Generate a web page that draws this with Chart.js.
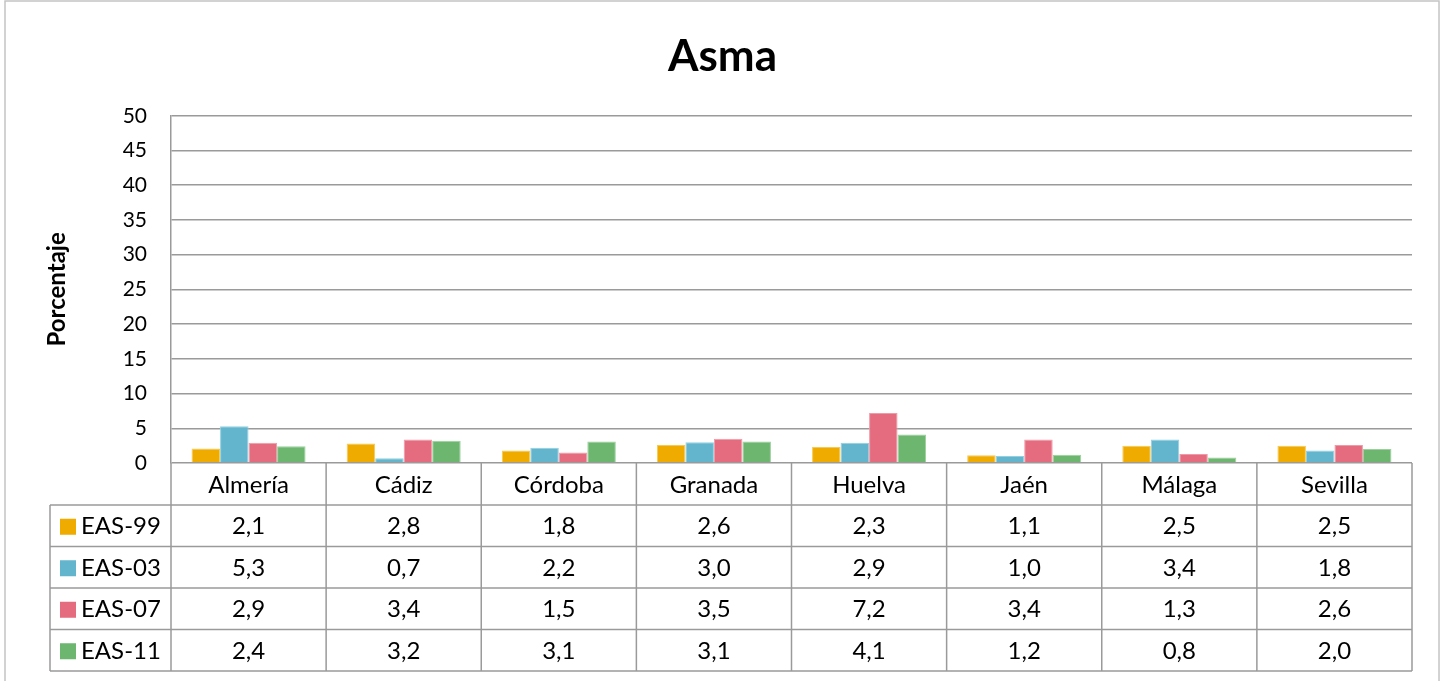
<!DOCTYPE html>
<html lang="es">
<head>
  <meta charset="utf-8">
  <title>Asma</title>
  <style>
    body { margin: 0; background: #fff; }
    #wrap { width: 1445px; height: 681px; position: relative; }
  </style>
</head>
<body>
  <div id="wrap"><canvas id="chart"></canvas></div>
  <script src="https://cdn.jsdelivr.net/npm/chart.js"></script>
  <script>
    var provincias = ['Almería', 'Cádiz', 'Córdoba', 'Granada', 'Huelva', 'Jaén', 'Málaga', 'Sevilla'];
    var eas99 = [2.1, 2.8, 1.8, 2.6, 2.3, 1.1, 2.5, 2.5];
    var eas03 = [5.3, 0.7, 2.2, 3.0, 2.9, 1.0, 3.4, 1.8];
    var eas07 = [2.9, 3.4, 1.5, 3.5, 7.2, 3.4, 1.3, 2.6];
    var eas11 = [2.4, 3.2, 3.1, 3.1, 4.1, 1.2, 0.8, 2.0];
    var yTicks = [0, 5, 10, 15, 20, 25, 30, 35, 40, 45, 50];

    var fuente = 'Lato, "Noto Sans", sans-serif';

    function serie(label, data, color, borde) {
      return {
        label: label,
        data: data,
        backgroundColor: color,
        borderColor: borde,
        borderWidth: 1,
        barPercentage: 1,
        categoryPercentage: 0.735
      };
    }

    // tabla de datos bajo el eje, como en Excel
    var tablaDatos = {
      id: 'tablaDatos',
      afterDraw: function (chart) {
        var ctx = chart.ctx;
        var x = chart.scales.x;
        var area = chart.chartArea;
        var n = provincias.length;
        var ancho = (area.right - area.left) / n;
        var top = area.bottom;
        var filaCab = 42;
        var fila = 41.5;
        var izq = 50;
        var bottom = top + filaCab + fila * 4;

        ctx.save();
        ctx.strokeStyle = '#9a9a9a';
        ctx.lineWidth = 1.5;
        ctx.beginPath();
        for (var i = 0; i <= n; i++) {
          var vx = area.left + i * ancho;
          ctx.moveTo(vx, top);
          ctx.lineTo(vx, bottom);
        }
        ctx.moveTo(izq, top + filaCab);
        ctx.lineTo(izq, bottom);
        ctx.moveTo(izq, top + filaCab);
        ctx.lineTo(area.right, top + filaCab);
        for (var r = 1; r <= 4; r++) {
          var hy = top + filaCab + r * fila;
          ctx.moveTo(izq, hy);
          ctx.lineTo(area.right, hy);
        }
        ctx.stroke();

        ctx.fillStyle = '#000';
        ctx.font = '24px ' + fuente;
        ctx.textAlign = 'center';
        ctx.textBaseline = 'middle';
        provincias.forEach(function (p, i) {
          ctx.fillText(p, x.getPixelForValue(i), top + filaCab / 2 + 1);
        });

        chart.data.datasets.forEach(function (ds, r) {
          var cy = top + filaCab + r * fila + fila / 2 + 1;
          ctx.fillStyle = ds.backgroundColor;
          ctx.fillRect(60, cy - 8, 16, 16);
          ctx.fillStyle = '#000';
          ctx.textAlign = 'left';
          ctx.fillText(ds.label, 81, cy);
          ctx.textAlign = 'center';
          ds.data.forEach(function (v, i) {
            ctx.fillText(v.toFixed(1).replace('.', ','), x.getPixelForValue(i), cy);
          });
        });

        // marco exterior
        ctx.strokeStyle = '#c4c4c4';
        ctx.lineWidth = 1.5;
        ctx.strokeRect(5, 1, 1434, 700);
        ctx.restore();
      }
    };

    new Chart(document.getElementById('chart'), {
      type: 'bar',
      data: {
        labels: provincias,
        datasets: [
          serie('EAS-99', eas99, '#f0ab00', '#f6c955'),
          serie('EAS-03', eas03, '#62b5cd', '#94cfe0'),
          serie('EAS-07', eas07, '#e56b7e', '#f09aa7'),
          serie('EAS-11', eas11, '#6cb66f', '#9bd09d')
        ]
      },
      options: {
        responsive: true,
        maintainAspectRatio: false,
        animation: false,
        layout: { padding: { left: 0, right: 0, top: 0, bottom: 218 } },
        plugins: {
          legend: { display: false },
          tooltip: { enabled: false },
          title: {
            display: true,
            text: 'Asma',
            color: '#000',
            font: { family: fuente, size: 44, weight: 'bold' },
            padding: { top: 30, bottom: 33 }
          }
        },
        scales: {
          x: { display: false },
          y: {
            min: 0,
            max: 50,
            afterFit: function (scale) { scale.width = 171; },
            afterBuildTicks: function (scale) {
              scale.ticks = yTicks.map(function (v) { return { value: v }; });
            },
            ticks: {
              color: '#000',
              padding: 24,
              font: { family: fuente, size: 21 }
            },
            grid: { color: '#9a9a9a', lineWidth: 1.5, drawTicks: false },
            border: { color: '#9a9a9a', width: 1.5 },
            title: {
              display: true,
              text: 'Porcentaje',
              color: '#000',
              font: { family: fuente, size: 24, weight: 'bold' },
              padding: { top: 43, bottom: 0 }
            }
          },
          // eje vacío a la derecha: deja el margen sin descentrar el título
          margen: {
            position: 'right',
            min: 0,
            max: 50,
            afterFit: function (scale) { scale.width = 33; },
            ticks: { display: false },
            grid: { display: false, drawTicks: false },
            border: { display: false }
          }
        }
      },
      plugins: [tablaDatos]
    });
  </script>
</body>
</html>
